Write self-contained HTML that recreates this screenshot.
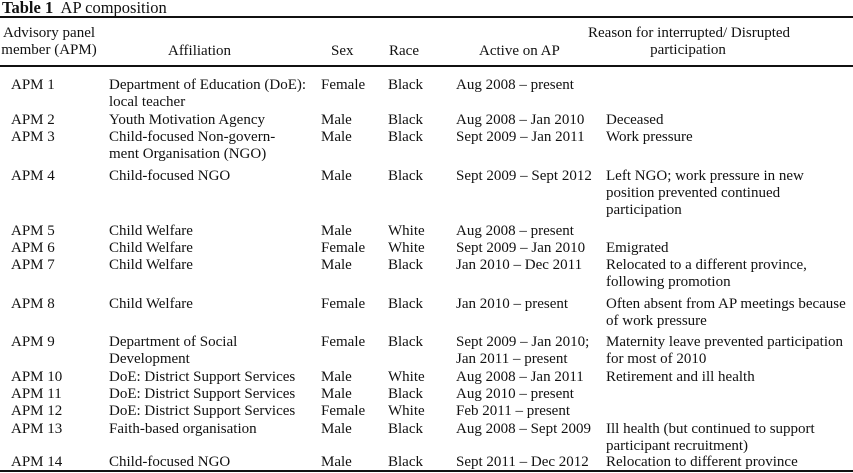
<!DOCTYPE html>
<html><head><style>
body{margin:0;width:853px;height:473px;background:#fff;position:relative;overflow:hidden;font-family:"Liberation Serif",serif;font-size:15px;color:#111}
.t{position:absolute;white-space:nowrap;line-height:17px}
.r{position:absolute;left:0;width:853px;background:#111}
.c{text-align:center}
</style></head><body>
<div class="t" style="left:2px;top:-1px;font-size:16.5px;line-height:18px"><b>Table 1</b>&nbsp; AP composition</div>
<div class="r" style="top:16px;height:2px"></div>
<div class="t c" style="left:0;width:98px;top:25px">Advisory panel<br>member (APM)</div>
<div class="t" style="left:168px;top:43px">Affiliation</div>
<div class="t" style="left:331px;top:43px">Sex</div>
<div class="t" style="left:389px;top:43px">Race</div>
<div class="t" style="left:479px;top:43px">Active on AP</div>
<div class="t c" style="left:588px;width:200px;top:25px">Reason for interrupted/ Disrupted<br>participation</div>
<div class="r" style="top:65px;height:2px"></div>

<div class="t" style="left:11px;top:77px">APM 1</div><div class="t" style="left:109px;top:77px">Department of Education (DoE):<br>local teacher</div><div class="t" style="left:321px;top:77px">Female</div><div class="t" style="left:388px;top:77px">Black</div><div class="t" style="left:456px;top:77px">Aug 2008 – present</div>
<div class="t" style="left:11px;top:112px">APM 2</div><div class="t" style="left:109px;top:112px">Youth Motivation Agency</div><div class="t" style="left:321px;top:112px">Male</div><div class="t" style="left:388px;top:112px">Black</div><div class="t" style="left:456px;top:112px">Aug 2008 – Jan 2010</div><div class="t" style="left:606px;top:112px">Deceased</div>
<div class="t" style="left:11px;top:129px">APM 3</div><div class="t" style="left:109px;top:129px">Child-focused Non-govern-<br>ment Organisation (NGO)</div><div class="t" style="left:321px;top:129px">Male</div><div class="t" style="left:388px;top:129px">Black</div><div class="t" style="left:456px;top:129px">Sept 2009 – Jan 2011</div><div class="t" style="left:606px;top:129px">Work pressure</div>
<div class="t" style="left:11px;top:168px">APM 4</div><div class="t" style="left:109px;top:168px">Child-focused NGO</div><div class="t" style="left:321px;top:168px">Male</div><div class="t" style="left:388px;top:168px">Black</div><div class="t" style="left:456px;top:168px">Sept 2009 – Sept 2012</div><div class="t" style="left:606px;top:168px">Left NGO; work pressure in new<br>position prevented continued<br>participation</div>
<div class="t" style="left:11px;top:223px">APM 5</div><div class="t" style="left:109px;top:223px">Child Welfare</div><div class="t" style="left:321px;top:223px">Male</div><div class="t" style="left:388px;top:223px">White</div><div class="t" style="left:456px;top:223px">Aug 2008 – present</div>
<div class="t" style="left:11px;top:240px">APM 6</div><div class="t" style="left:109px;top:240px">Child Welfare</div><div class="t" style="left:321px;top:240px">Female</div><div class="t" style="left:388px;top:240px">White</div><div class="t" style="left:456px;top:240px">Sept 2009 – Jan 2010</div><div class="t" style="left:606px;top:240px">Emigrated</div>
<div class="t" style="left:11px;top:257px">APM 7</div><div class="t" style="left:109px;top:257px">Child Welfare</div><div class="t" style="left:321px;top:257px">Male</div><div class="t" style="left:388px;top:257px">Black</div><div class="t" style="left:456px;top:257px">Jan 2010 – Dec 2011</div><div class="t" style="left:606px;top:257px">Relocated to a different province,<br>following promotion</div>
<div class="t" style="left:11px;top:296px">APM 8</div><div class="t" style="left:109px;top:296px">Child Welfare</div><div class="t" style="left:321px;top:296px">Female</div><div class="t" style="left:388px;top:296px">Black</div><div class="t" style="left:456px;top:296px">Jan 2010 – present</div><div class="t" style="left:606px;top:296px">Often absent from AP meetings because<br>of work pressure</div>
<div class="t" style="left:11px;top:334px">APM 9</div><div class="t" style="left:109px;top:334px">Department of Social<br>Development</div><div class="t" style="left:321px;top:334px">Female</div><div class="t" style="left:388px;top:334px">Black</div><div class="t" style="left:456px;top:334px">Sept 2009 – Jan 2010;<br>Jan 2011 – present</div><div class="t" style="left:606px;top:334px">Maternity leave prevented participation<br>for most of 2010</div>
<div class="t" style="left:11px;top:369px">APM 10</div><div class="t" style="left:109px;top:369px">DoE: District Support Services</div><div class="t" style="left:321px;top:369px">Male</div><div class="t" style="left:388px;top:369px">White</div><div class="t" style="left:456px;top:369px">Aug 2008 – Jan 2011</div><div class="t" style="left:606px;top:369px">Retirement and ill health</div>
<div class="t" style="left:11px;top:386px">APM 11</div><div class="t" style="left:109px;top:386px">DoE: District Support Services</div><div class="t" style="left:321px;top:386px">Male</div><div class="t" style="left:388px;top:386px">Black</div><div class="t" style="left:456px;top:386px">Aug 2010 – present</div>
<div class="t" style="left:11px;top:403px">APM 12</div><div class="t" style="left:109px;top:403px">DoE: District Support Services</div><div class="t" style="left:321px;top:403px">Female</div><div class="t" style="left:388px;top:403px">White</div><div class="t" style="left:456px;top:403px">Feb 2011 – present</div>
<div class="t" style="left:11px;top:421px">APM 13</div><div class="t" style="left:109px;top:421px">Faith-based organisation</div><div class="t" style="left:321px;top:421px">Male</div><div class="t" style="left:388px;top:421px">Black</div><div class="t" style="left:456px;top:421px">Aug 2008 – Sept 2009</div><div class="t" style="left:606px;top:421px">Ill health (but continued to support<br>participant recruitment)</div>
<div class="t" style="left:11px;top:454px">APM 14</div><div class="t" style="left:109px;top:454px">Child-focused NGO</div><div class="t" style="left:321px;top:454px">Male</div><div class="t" style="left:388px;top:454px">Black</div><div class="t" style="left:456px;top:454px">Sept 2011 – Dec 2012</div><div class="t" style="left:606px;top:454px">Relocation to different province</div>
<div class="r" style="top:470px;height:2px"></div>
</body></html>
